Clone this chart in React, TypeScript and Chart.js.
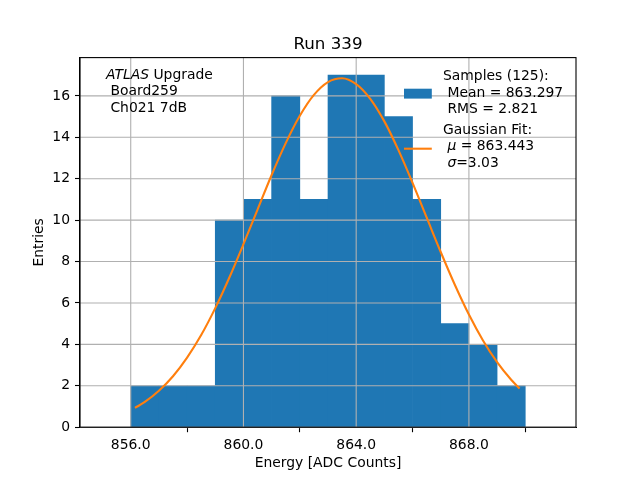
import React, { useEffect, useRef } from "react";
import { Chart, registerables } from "chart.js";

Chart.register(...registerables);

// ---- data ----
const binStarts = [856, 857, 858, 859, 860, 861, 862, 863, 864, 865, 866, 867, 868, 869];
const binCounts = [2, 2, 2, 10, 11, 16, 11, 17, 17, 15, 11, 5, 4, 2];

const fitX = [
  856.15, 856.5, 857.0, 857.5, 858.0, 858.5, 859.0, 859.5, 860.0, 860.5, 861.0, 861.5,
  862.0, 862.5, 863.0, 863.5, 864.0, 864.5, 865.0, 865.5, 866.0, 866.5, 867.0, 867.5,
  868.0, 868.5, 869.0, 869.5, 869.8,
];
const fitY = [
  0.93, 1.22, 1.76, 2.46, 3.36, 4.45, 5.75, 7.23, 8.84, 10.51, 12.18, 13.72,
  15.04, 16.05, 16.67, 16.85, 16.57, 15.86, 14.77, 13.38, 11.8, 10.13, 8.46, 6.88,
  5.44, 4.19, 3.14, 2.29, 1.87,
];

const xTicks = [856, 860, 864, 868];
const yTicks = [0, 2, 4, 6, 8, 10, 12, 14, 16];
const xRange = [854.2, 871.8];
const yRange = [0, 17.85];

const titleText = "Run 339";
const xLabel = "Energy [ADC Counts]";
const yLabel = "Entries";
const sampleLegend = ["Samples (125):", " Mean = 863.297", " RMS = 2.821"];
const fitLegendHead = "Gaussian Fit:";
const fitMu = "863.443";
const fitSigma = "3.03";
const boardLines = [" Board259", " Ch021 7dB"];

const BLUE = "#1f77b4";
const ORANGE = "#ff7f0e";
const FONT = "DejaVu Sans";
const FS = 13.9;

type Run = [string, boolean];

function drawRuns(ctx: CanvasRenderingContext2D, x: number, y: number, runs: Run[]) {
  let cx = x;
  for (const [t, it] of runs) {
    ctx.font = `${it ? "italic " : ""}${FS}px "${FONT}"`;
    ctx.fillText(t, cx, y);
    cx += ctx.measureText(t).width;
  }
}

const overlay = {
  id: "overlay",
  afterDatasetDraw(chart: any, args: any) {
    if (args.index !== 0) return;
    const { ctx, chartArea: a, scales } = chart;
    const xs = scales.x;
    const ys = scales.y;
    ctx.save();
    ctx.strokeStyle = "#b0b0b0";
    ctx.lineWidth = 1.1;
    ctx.beginPath();
    for (const t of xTicks) {
      const px = xs.getPixelForValue(t);
      ctx.moveTo(px, a.top);
      ctx.lineTo(px, a.bottom);
    }
    for (const t of yTicks) {
      const py = ys.getPixelForValue(t);
      ctx.moveTo(a.left, py);
      ctx.lineTo(a.right, py);
    }
    ctx.stroke();
    ctx.restore();
  },
  afterDraw(chart: any) {
    const { ctx, chartArea: a } = chart;
    ctx.save();
    // frame
    ctx.strokeStyle = "#000";
    ctx.lineWidth = 1.1;
    ctx.strokeRect(a.left, a.top, a.right - a.left, a.bottom - a.top);

    ctx.fillStyle = "#000";
    ctx.textBaseline = "middle";
    // title
    ctx.textAlign = "center";
    ctx.font = `16.7px "${FONT}"`;
    ctx.fillText(titleText, (a.left + a.right) / 2, 44.5);

    ctx.textAlign = "left";
    // annotation
    drawRuns(ctx, 106, 75, [["ATLAS", true], [" Upgrade", false]]);
    boardLines.forEach((l, i) => drawRuns(ctx, 106, 91.8 + i * 16.6, [[l, false]]));

    // legend
    ctx.fillStyle = BLUE;
    ctx.fillRect(404, 88.7, 27.8, 9.9);
    ctx.fillStyle = "#000";
    sampleLegend.forEach((l, i) => drawRuns(ctx, 443, 76.4 + i * 16.6, [[l, false]]));
    drawRuns(ctx, 443, 130, [[fitLegendHead, false]]);
    drawRuns(ctx, 443, 146.8, [[" ", false], ["μ", true], [" = " + fitMu, false]]);
    drawRuns(ctx, 443, 163.4, [[" ", false], ["σ", true], ["=" + fitSigma, false]]);
    ctx.strokeStyle = ORANGE;
    ctx.lineWidth = 2.1;
    ctx.beginPath();
    ctx.moveTo(404, 148.7);
    ctx.lineTo(431.8, 148.7);
    ctx.stroke();
    ctx.restore();
  },
};

export default function App() {
  const ref = useRef<HTMLCanvasElement>(null);
  useEffect(() => {
    if (!ref.current) return;
    const tickFont = { family: FONT, size: FS };
    const chart = new Chart(ref.current, {
      type: "bar",
      data: {
        datasets: [
          {
            type: "bar",
            data: binStarts.map((s, i) => ({ x: s + 0.5, y: binCounts[i] })),
            backgroundColor: BLUE,
            borderWidth: 0,
            barPercentage: 1,
            categoryPercentage: 1,
            order: 2,
          } as any,
          {
            type: "line",
            data: fitX.map((x, i) => ({ x, y: fitY[i] })),
            borderColor: ORANGE,
            borderWidth: 2.1,
            pointRadius: 0,
            cubicInterpolationMode: "monotone",
            fill: false,
            order: 1,
          } as any,
        ],
      },
      options: {
        animation: false,
        responsive: false,
        devicePixelRatio: 1,
        events: [],
        layout: { padding: { top: 57.6, right: 64, left: 0, bottom: 0 } },
        plugins: { legend: { display: false }, title: { display: false }, tooltip: { enabled: false } },
        scales: {
          x: {
            type: "linear",
            min: xRange[0],
            max: xRange[1],
            offset: false,
            afterBuildTicks: (s: any) => {
              s.ticks = xTicks.map((v) => ({ value: v }));
            },
            afterFit: (s: any) => {
              s.height = 52.8;
            },
            ticks: {
              autoSkip: false,
              maxRotation: 0,
              color: "#000",
              font: tickFont,
              padding: 5,
              callback: (v: any) => Number(v).toFixed(1),
            },
            grid: { display: true, drawOnChartArea: false, drawTicks: true, tickLength: 5, tickColor: "#000", tickWidth: 1.1 },
            border: { display: true, color: "#000", width: 1.1 },
            title: { display: true, text: xLabel, color: "#000", font: tickFont, padding: { top: 0, bottom: 8.6 } },
          },
          y: {
            type: "linear",
            min: yRange[0],
            max: yRange[1],
            afterBuildTicks: (s: any) => {
              s.ticks = yTicks.map((v) => ({ value: v }));
            },
            afterFit: (s: any) => {
              s.width = 80;
            },
            ticks: { color: "#000", font: tickFont, padding: 5, callback: (v: any) => String(v) },
            grid: { display: true, drawOnChartArea: false, drawTicks: true, tickLength: 5, tickColor: "#000", tickWidth: 1.1 },
            border: { display: true, color: "#000", width: 1.1 },
            title: { display: true, text: yLabel, color: "#000", font: tickFont, padding: { top: 30.7, bottom: 0 } },
          },
        },
      } as any,
      plugins: [overlay],
    });
    return () => chart.destroy();
  }, []);
  return (
    <div style={{ position: "absolute", left: 0, top: 0, width: 640, height: 480, background: "#fff" }}>
      <canvas ref={ref} width={640} height={480} style={{ display: "block" }} />
    </div>
  );
}
